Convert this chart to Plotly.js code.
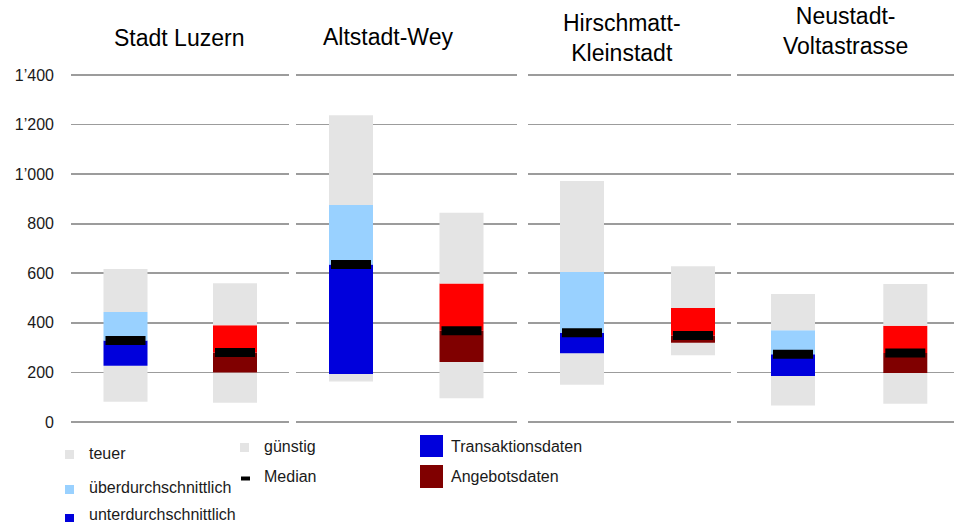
<!DOCTYPE html>
<html>
<head>
<meta charset="utf-8">
<script src="https://cdn.plot.ly/plotly-3.0.1.min.js"></script>
<style>
  html, body { margin: 0; padding: 0; background: #ffffff; }
  #chart { width: 954px; height: 524px; }
</style>
</head>
<body>
<div id="chart"></div>
<script>
// Quartiere (one panel each)
const quartiere = ['Stadt Luzern', 'Altstadt-Wey', 'Hirschmatt-<br>Kleinstadt', 'Neustadt-<br>Voltastrasse'];
const datenquellen = ['Transaktionsdaten', 'Angebotsdaten'];

// Transaktionsdaten: Minimum, 1. Quartil, Median, 3. Quartil, Maximum
const transMin = [82, 163, 150, 67];
const transQ1  = [227, 194, 277, 186];
const transMed = [329, 635, 360, 273];
const transQ3  = [444, 875, 605, 370];
const transMax = [617, 1238, 972, 516];

// Angebotsdaten: Minimum, 1. Quartil, Median, 3. Quartil, Maximum
const angMin = [78, 96, 269, 74];
const angQ1  = [200, 242, 320, 198];
const angMed = [280, 368, 349, 278];
const angQ3  = [390, 559, 460, 388];
const angMax = [560, 844, 628, 557];

// y axis ticks
const yTickVals = [0, 200, 400, 600, 800, 1000, 1200, 1400];
const yTickText = ['0', '200', '400', '600', '800', '1’000', '1’200', '1’400'];

// legend entries
const legendKlassen = ['teuer', 'überdurchschnittlich', 'unterdurchschnittlich', 'günstig', 'Median'];

// ---- layout helpers (pixel -> paper) ----
const W = 954, H = 524;
const FONT = '"Liberation Sans", Arial, sans-serif';
const px = v => v / W;
const py = v => 1 - v / H;

// vertical scale: 0 at 422px, 1400 at 75px
const Y0PX = 422, YTOPPX = 75, YTOPVAL = 1400;
const pxPerUnit = (Y0PX - YTOPPX) / YTOPVAL;
const yLo = -20, yHi = 1420;
const yDomain = [py(Y0PX - yLo * pxPerUnit), py(Y0PX - yHi * pxPerUnit)];

// panel geometry: left/right edge of the gridlines, centers of the two bars
const panels = [
  { left: 71,  right: 289, c0: 125.5, c1: 235 },
  { left: 296, right: 517, c0: 351,   c1: 461.5 },
  { left: 528, right: 731, c0: 582,   c1: 693 },
  { left: 737, right: 954, c0: 793,   c1: 905.3 }
];
const titleX = [178.5, 387.5, 622, 845];
const titleY = [38, 36.5, 37.5, 31];

const GRAY = '#e4e4e4';
const colUnter = ['#0000dc', '#800000'];
const colUeber = ['#99d1ff', '#ff0000'];

const traces = [];
const layout = {
  width: W, height: H,
  margin: { l: 0, r: 0, t: 0, b: 0 },
  paper_bgcolor: '#ffffff',
  plot_bgcolor: 'rgba(0,0,0,0)',
  barmode: 'overlay',
  showlegend: false,
  hovermode: false,
  font: { family: FONT, size: 16, color: '#1a1a1a' },
  annotations: [],
  shapes: []
};

panels.forEach((p, i) => {
  const k = i === 0 ? '' : String(i + 1);
  const xa = 'x' + k, ya = 'y' + k;
  const unit = p.c1 - p.c0;
  const barW = 44 / unit;

  layout['xaxis' + k] = {
    domain: [px(p.left), px(p.right)],
    range: [-(p.c0 - p.left) / unit, 1 + (p.right - p.c1) / unit],
    anchor: ya,
    showgrid: false, zeroline: false, showticklabels: false, ticks: '',
    fixedrange: true
  };
  const yax = {
    domain: yDomain,
    range: [yLo, yHi],
    anchor: xa,
    showgrid: true,
    gridcolor: '#9c9c9c',
    gridwidth: 1.6,
    zeroline: false,
    showline: false,
    tickmode: 'array',
    tickvals: yTickVals,
    ticktext: yTickText,
    ticks: '',
    fixedrange: true
  };
  if (i === 0) {
    yax.showticklabels = true;
    yax.tickfont = { family: FONT, size: 16, color: '#1a1a1a' };
    yax.ticklabelstandoff = 16;
  } else {
    yax.showticklabels = false;
  }
  layout['yaxis' + k] = yax;

  const lo  = [transMin[i], angMin[i]];
  const q1  = [transQ1[i],  angQ1[i]];
  const med = [transMed[i], angMed[i]];
  const q3  = [transQ3[i],  angQ3[i]];
  const hi  = [transMax[i], angMax[i]];
  const xs = [0, 1];

  const seg = (from, to, colors, name) => ({
    type: 'bar', xaxis: xa, yaxis: ya, name: name,
    x: xs, base: from, y: to.map((v, j) => v - from[j]),
    width: barW,
    marker: { color: colors, line: { width: 0 } },
    hoverinfo: 'skip'
  });

  traces.push(seg(lo, q1, [GRAY, GRAY], 'günstig'));
  traces.push(seg(q1, med, colUnter, 'unterdurchschnittlich'));
  traces.push(seg(med, q3, colUeber, 'überdurchschnittlich'));
  traces.push(seg(q3, hi, [GRAY, GRAY], 'teuer'));
  traces.push({
    type: 'scatter', mode: 'markers', xaxis: xa, yaxis: ya, name: 'Median',
    x: xs, y: med,
    marker: { symbol: 'line-ew', size: 40 / 1.4, color: '#000000',
              line: { color: '#000000', width: 9 } },
    hoverinfo: 'skip', cliponaxis: false
  });

  layout.annotations.push({
    xref: 'paper', yref: 'paper', x: px(titleX[i]), y: py(titleY[i]),
    xanchor: 'center', yanchor: 'middle', showarrow: false,
    text: quartiere[i],
    font: { family: FONT, size: 23, color: '#000000' }
  });
});

// ---- legend drawn with shapes + text ----
const legendSwatches = [
  { x0: 65,  x1: 74,  y0: 450, y1: 459, color: GRAY,      text: legendKlassen[0], tx: 87,  ty: 453 },
  { x0: 65,  x1: 74,  y0: 485, y1: 494, color: '#99d1ff', text: legendKlassen[1], tx: 87,  ty: 487 },
  { x0: 65,  x1: 74,  y0: 514, y1: 522, color: '#0000dc', text: legendKlassen[2], tx: 87,  ty: 514 },
  { x0: 240, x1: 249, y0: 443, y1: 452, color: GRAY,      text: legendKlassen[3], tx: 262, ty: 446 },
  { x0: 241, x1: 250, y0: 476.5, y1: 480.5, color: '#000000', text: legendKlassen[4], tx: 262, ty: 476 },
  { x0: 420, x1: 443, y0: 435, y1: 457, color: '#0000dc', text: datenquellen[0], tx: 449, ty: 446 },
  { x0: 420, x1: 443, y0: 465, y1: 488, color: '#800000', text: datenquellen[1], tx: 449, ty: 476 }
];
legendSwatches.forEach(s => {
  layout.shapes.push({
    type: 'rect', xref: 'paper', yref: 'paper',
    x0: px(s.x0), x1: px(s.x1), y0: py(s.y1), y1: py(s.y0),
    fillcolor: s.color, line: { width: 0 }, layer: 'above'
  });
  layout.annotations.push({
    xref: 'paper', yref: 'paper', x: px(s.tx), y: py(s.ty),
    xanchor: 'left', yanchor: 'middle', showarrow: false,
    text: s.text, font: { family: FONT, size: 16, color: '#1a1a1a' }
  });
});

Plotly.newPlot('chart', traces, layout, { displayModeBar: false, staticPlot: true });
</script>
</body>
</html>
